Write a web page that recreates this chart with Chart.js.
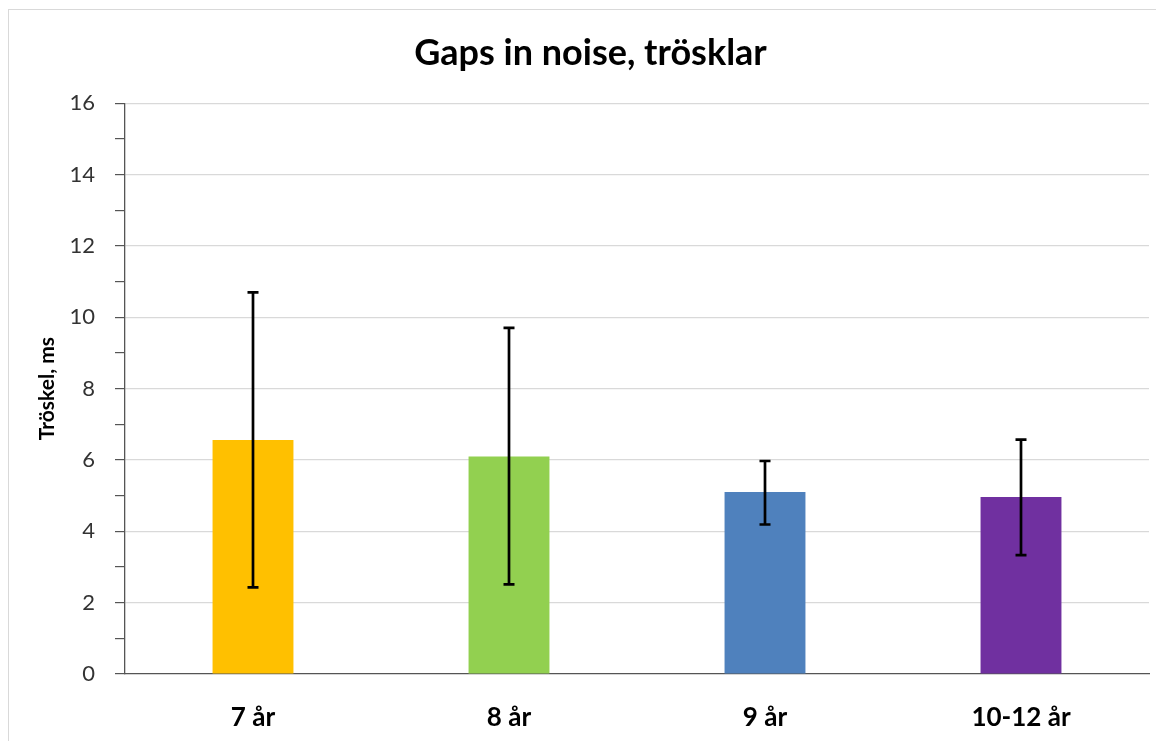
<!DOCTYPE html>
<html>
<head>
<meta charset="utf-8">
<script src="https://cdn.jsdelivr.net/npm/chart.js@4/dist/chart.umd.min.js"></script>
<style>
  html, body { margin: 0; padding: 0; background: #fff; }
  #wrap { position: relative; width: 1156px; height: 741px; overflow: hidden; }
  #frame { position: absolute; left: 8px; top: 9px; width: 1200px; height: 800px; border-left: 1px solid #d9d9d9; border-top: 1px solid #d9d9d9; }
  canvas { position: absolute; left: 0; top: 0; }
</style>
</head>
<body>
<div id="wrap">
  <div id="frame"></div>
  <canvas id="chart" width="1156" height="741"></canvas>
</div>
<script>
const categories = ['7 år', '8 år', '9 år', '10-12 år'];
const thresholds = [6.56, 6.10, 5.10, 4.96];
const errLow = [2.43, 2.51, 4.19, 3.33];
const errHigh = [10.70, 9.70, 5.97, 6.57];
const barColors = ['#FFC000', '#92D050', '#4F81BD', '#7030A0'];

const FONT = 'Lato, Calibri, "Open Sans", sans-serif';

// ritar felstaplar ovanpå staplarna
const errorBars = {
  id: 'errorBars',
  afterDatasetsDraw(chart) {
    const ctx = chart.ctx;
    const y = chart.scales.y;
    const meta = chart.getDatasetMeta(0);
    ctx.save();
    ctx.strokeStyle = '#000';
    ctx.lineWidth = 2.7;
    meta.data.forEach((bar, i) => {
      const yl = y.getPixelForValue(errLow[i]);
      const yh = y.getPixelForValue(errHigh[i]);
      ctx.beginPath();
      ctx.moveTo(bar.x, yl);
      ctx.lineTo(bar.x, yh);
      ctx.moveTo(bar.x - 5.5, yl);
      ctx.lineTo(bar.x + 5.5, yl);
      ctx.moveTo(bar.x - 5.5, yh);
      ctx.lineTo(bar.x + 5.5, yh);
      ctx.stroke();
    });
    ctx.restore();
  }
};

new Chart(document.getElementById('chart'), {
  type: 'bar',
  data: {
    labels: categories,
    datasets: [{
      data: thresholds,
      backgroundColor: barColors,
      borderWidth: 0,
      categoryPercentage: 1,
      barPercentage: 0.316
    }]
  },
  options: {
    responsive: false,
    animation: false,
    layout: { padding: { top: 20, right: 7, bottom: 11, left: 32 } },
    plugins: {
      legend: { display: false },
      tooltip: { enabled: false },
      title: {
        display: true,
        text: 'Gaps in noise, trösklar',
        color: '#000',
        font: { family: FONT, size: 36, weight: 'bold' },
        padding: { top: 12, bottom: 28 }
      }
    },
    scales: {
      x: {
        afterFit(scale) { scale.height = 56; },
        grid: { display: false, drawTicks: false },
        border: { color: '#555', width: 1.3 },
        ticks: {
          color: '#000',
          padding: 28,
          font: { family: FONT, size: 26, weight: 'bold' }
        }
      },
      y: {
        min: 0,
        max: 16,
        afterFit(scale) { scale.width = 93; },
        grid: {
          color: (c) => (c.tick && c.tick.value % 2 === 0 && c.tick.value !== 0) ? '#d9d9d9' : 'rgba(0,0,0,0)',
          tickColor: '#555',
          tickLength: 10,
          lineWidth: 1.2
        },
        border: { color: '#555', width: 1.3 },
        ticks: {
          stepSize: 1,
          autoSkip: false,
          padding: 20,
          color: '#333',
          font: { family: FONT, size: 22 },
          callback: (v) => v % 2 === 0 ? v : ''
        },
        title: {
          display: true,
          text: 'Tröskel, ms',
          color: '#000',
          font: { family: FONT, size: 21, weight: 'bold' },
          padding: { top: 3, bottom: 0 }
        }
      }
    }
  },
  plugins: [errorBars]
});
</script>
</body>
</html>
